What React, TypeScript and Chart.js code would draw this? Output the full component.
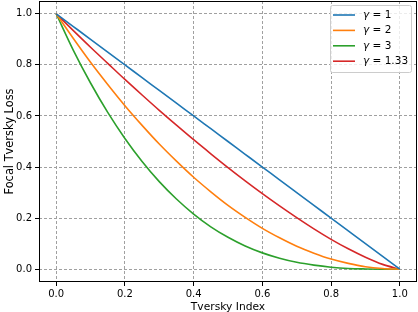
import React, { useEffect, useRef } from "react";
import { Chart, registerables } from "chart.js";
Chart.register(...registerables);

const tverskyIndex = [0, 0.05, 0.1, 0.15, 0.2, 0.25, 0.3, 0.35, 0.4, 0.45, 0.5, 0.55, 0.6, 0.65, 0.7, 0.75, 0.8, 0.85, 0.9, 0.95, 1.0];
const lossGamma1 = [1, 0.95, 0.9, 0.85, 0.8, 0.75, 0.7, 0.65, 0.6, 0.55, 0.5, 0.45, 0.4, 0.35, 0.3, 0.25, 0.2, 0.15, 0.1, 0.05, 0];
const lossGamma2 = [1, 0.903, 0.81, 0.723, 0.64, 0.563, 0.49, 0.423, 0.36, 0.303, 0.25, 0.203, 0.16, 0.123, 0.09, 0.063, 0.04, 0.023, 0.01, 0.003, 0];
const lossGamma3 = [1, 0.857, 0.729, 0.614, 0.512, 0.422, 0.343, 0.275, 0.216, 0.166, 0.125, 0.091, 0.064, 0.043, 0.027, 0.016, 0.008, 0.003, 0.001, 0.0001, 0];
const lossGamma133 = [1, 0.934, 0.869, 0.806, 0.743, 0.682, 0.622, 0.564, 0.507, 0.452, 0.398, 0.346, 0.296, 0.248, 0.202, 0.158, 0.117, 0.08, 0.047, 0.019, 0];

const seriesLabels = ["1", "2", "3", "1.33"];
const seriesColors = ["#1f77b4", "#ff7f0e", "#2ca02c", "#d62728"];
const xTicks = [0, 0.2, 0.4, 0.6, 0.8, 1.0];
const yTicks = [0, 0.2, 0.4, 0.6, 0.8, 1.0];

const FONT = "'DejaVu Sans', sans-serif";

const frameAndLegend = {
  id: "frameAndLegend",
  afterDatasetsDraw(chart: any) {
    const { ctx, chartArea: a } = chart;
    ctx.save();
    ctx.strokeStyle = "#000";
    ctx.lineWidth = 1;
    ctx.setLineDash([]);
    const l = Math.round(a.left) + 0.5;
    const t = Math.round(a.top) + 0.5;
    const r = Math.round(a.right) - 0.5;
    const b = Math.round(a.bottom) - 0.5;
    ctx.strokeRect(l, t, r - l, b - t);
    const bx = 330.5, by = 5.5, bw = 81, bh = 67, rr = 2;
    ctx.beginPath();
    ctx.moveTo(bx + rr, by);
    ctx.lineTo(bx + bw - rr, by);
    ctx.quadraticCurveTo(bx + bw, by, bx + bw, by + rr);
    ctx.lineTo(bx + bw, by + bh - rr);
    ctx.quadraticCurveTo(bx + bw, by + bh, bx + bw - rr, by + bh);
    ctx.lineTo(bx + rr, by + bh);
    ctx.quadraticCurveTo(bx, by + bh, bx, by + bh - rr);
    ctx.lineTo(bx, by + rr);
    ctx.quadraticCurveTo(bx, by, bx + rr, by);
    ctx.closePath();
    ctx.fillStyle = "rgba(255,255,255,0.8)";
    ctx.fill();
    ctx.strokeStyle = "#cccccc";
    ctx.stroke();
    ctx.textBaseline = "middle";
    seriesLabels.forEach((lab, i) => {
      const y = 15 + i * 15.4;
      ctx.strokeStyle = seriesColors[i];
      ctx.lineWidth = 1.6;
      ctx.beginPath();
      ctx.moveTo(333, y);
      ctx.lineTo(355, y);
      ctx.stroke();
      ctx.fillStyle = "#000";
      ctx.font = `italic 10.5px ${FONT}`;
      ctx.fillText("γ", 363, y);
      const w = ctx.measureText("γ").width;
      ctx.font = `10.5px ${FONT}`;
      ctx.fillText(" = " + lab, 363 + w, y);
    });
    ctx.restore();
  },
};

const gridOpts = {
  color: "#a0a0a0",
  tickColor: "#000",
  tickBorderDash: [],
  tickLength: 4,
  lineWidth: 1,
};

export default function App() {
  const ref = useRef<HTMLCanvasElement>(null);
  useEffect(() => {
    const series = [lossGamma1, lossGamma2, lossGamma3, lossGamma133];
    const chart = new Chart(ref.current!, {
      type: "line",
      data: {
        datasets: series.map((ys, i) => ({
          label: "γ = " + seriesLabels[i],
          data: tverskyIndex.map((x, j) => ({ x, y: ys[j] })),
          borderColor: seriesColors[i],
          backgroundColor: seriesColors[i],
          borderWidth: 1.6,
          pointRadius: 0,
          fill: false,
          cubicInterpolationMode: "monotone" as const,
        })),
      },
      options: {
        responsive: false,
        animation: false,
        layout: { padding: { top: 1, right: 1, left: 0, bottom: 0 } },
        plugins: { legend: { display: false }, tooltip: { enabled: false } },
        scales: {
          x: {
            type: "linear",
            min: -0.05,
            max: 1.05,
            afterBuildTicks: (axis: any) => {
              axis.ticks = xTicks.map((v) => ({ value: v }));
            },
            afterFit: (s: any) => {
              s.height = 30;
              s.paddingLeft = 0;
              s.paddingRight = 0;
            },
            ticks: {
              color: "#000",
              font: { family: FONT, size: 10 },
              padding: 2,
              maxRotation: 0,
              callback: (v: any) => Number(v).toFixed(1),
            },
            grid: gridOpts,
            border: { display: false, dash: [3, 2] },
            title: {
              display: true,
              text: "Tversky Index",
              color: "#000",
              font: { family: FONT, size: 10.7 },
              padding: { top: 0, bottom: -2 },
            },
          },
          y: {
            type: "linear",
            min: -0.05,
            max: 1.05,
            afterBuildTicks: (axis: any) => {
              axis.ticks = yTicks.map((v) => ({ value: v }));
            },
            afterFit: (s: any) => {
              s.width = 39;
              s.paddingTop = 0;
              s.paddingBottom = 0;
            },
            ticks: {
              color: "#000",
              font: { family: FONT, size: 10 },
              padding: 3,
              callback: (v: any) => Number(v).toFixed(1),
            },
            grid: gridOpts,
            border: { display: false, dash: [3, 2] },
            title: {
              display: true,
              text: "Focal Tversky Loss",
              color: "#000",
              font: { family: FONT, size: 11.4 },
              padding: { top: 3, bottom: 0 },
            },
          },
        },
      },
      plugins: [frameAndLegend],
    });
    return () => chart.destroy();
  }, []);
  return (
    <div style={{ position: "fixed", left: 0, top: 0, width: 418, height: 312, background: "#fff" }}>
      <canvas ref={ref} width={418} height={312} />
    </div>
  );
}
